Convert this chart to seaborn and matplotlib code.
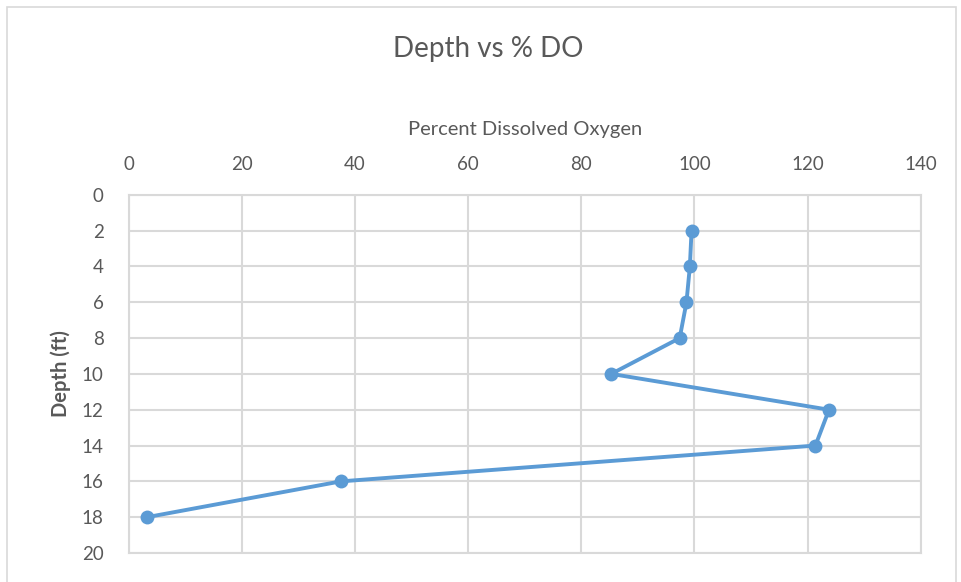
import seaborn as sns
import matplotlib.pyplot as plt
import pandas as pd
from matplotlib.patches import Rectangle

# readings from the profile
depth_ft = [2, 4, 6, 8, 10, 12, 14, 16, 18]
percent_do = [99.5, 99.2, 98.6, 97.4, 85.3, 123.8, 121.4, 37.5, 3.2]

x_ticks = [0, 20, 40, 60, 80, 100, 120, 140]
y_ticks = [0, 2, 4, 6, 8, 10, 12, 14, 16, 18, 20]

df = pd.DataFrame({"depth": depth_ft, "do": percent_do})

sns.set_style("white")
plt.rcParams['font.family'] = ['Lato', 'DejaVu Sans']

GREY_TXT = "#595959"
GRID = "#d9d9d9"
BLUE = "#5b9bd5"

fig = plt.figure(figsize=(9.61, 5.82), dpi=100)
ax = fig.add_axes([0.134, 0.0498, 0.824, 0.6155])

sns.lineplot(x="do", y="depth", data=df, sort=False, ax=ax, color=BLUE,
             linewidth=2.8, marker="o", markersize=10, markeredgewidth=0,
             zorder=3)

ax.set_xlim(0, 140)
ax.set_ylim(20, 0)
ax.set_xticks(x_ticks)
ax.set_yticks(y_ticks)
ax.xaxis.tick_top()
ax.xaxis.set_label_position("top")
ax.tick_params(length=0, labelsize=13.5, colors=GREY_TXT)
ax.tick_params(axis="x", pad=16)
ax.tick_params(axis="y", pad=18)
ax.grid(True, color=GRID, linewidth=1.5)
for s in ax.spines.values():
    s.set_color(GRID)
    s.set_linewidth(1.5)

ax.set_xlabel("Percent Dissolved Oxygen", fontsize=14.5, color=GREY_TXT, labelpad=15)
ax.set_ylabel("Depth (ft)", fontsize=14.5, color=GREY_TXT, fontweight="bold", labelpad=8)

fig.text(0.508, 0.915, "Depth vs % DO", ha="center", va="center",
         fontsize=20, color=GREY_TXT)

fig.patches.append(Rectangle((0.0073, -0.01), 0.988, 0.998, transform=fig.transFigure,
                             fill=False, edgecolor=GRID, linewidth=1.2))

plt.savefig("out.png", dpi=100)
plt.close()
